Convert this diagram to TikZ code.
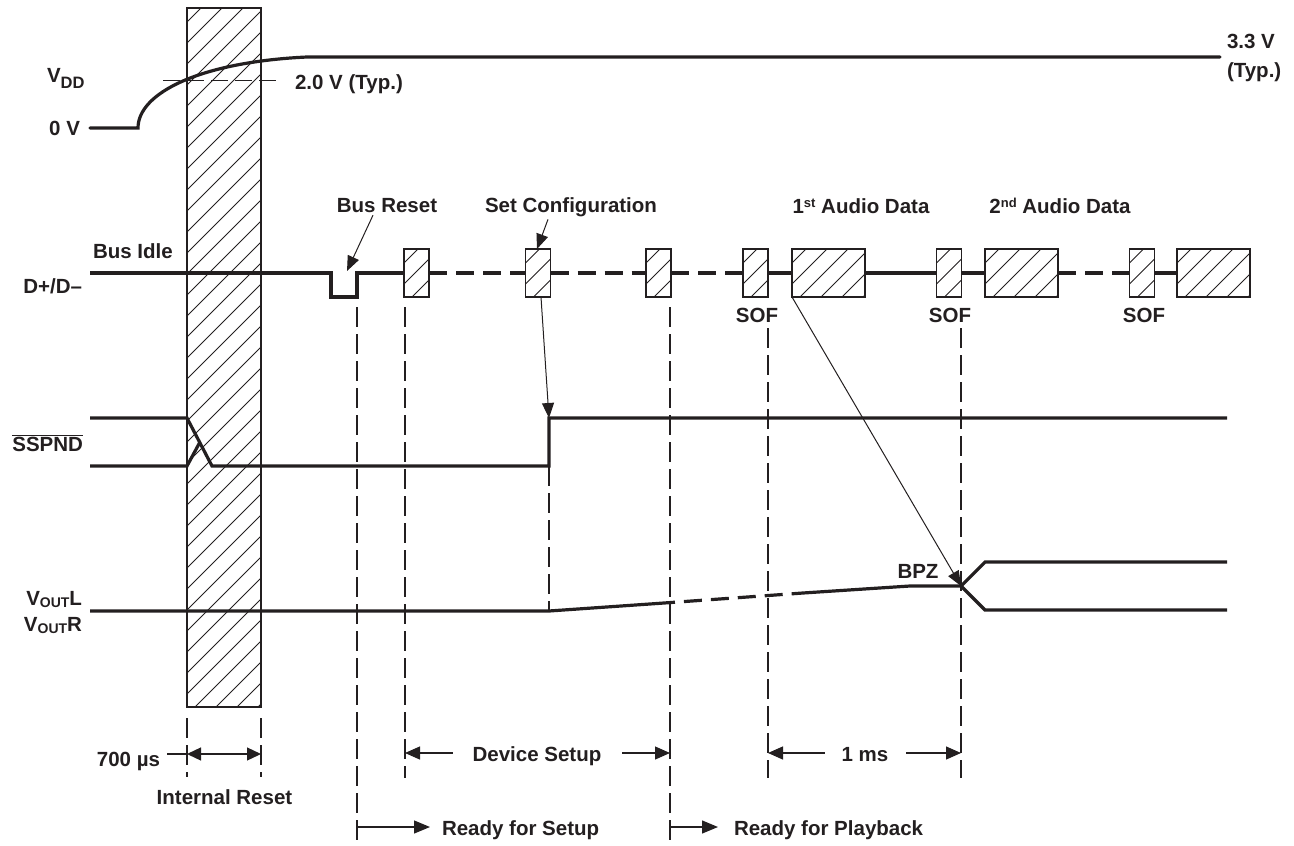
\documentclass[tikz,border=0pt]{standalone}
\usepackage{fontspec}
\setmainfont{Liberation Sans}
\usetikzlibrary{arrows.meta}
\definecolor{ink}{HTML}{231F20}
\newcommand\lbl{\fontsize{20.5}{24}\selectfont\bfseries}
\newcommand\subDD[1]{\raisebox{-6pt}{\fontsize{16.5}{16.5}\selectfont #1}}
\newcommand\subOUT[1]{\raisebox{-2.5pt}{\fontsize{14}{14}\selectfont #1}}
\newcommand\supx[1]{\raisebox{6pt}{\fontsize{13}{13}\selectfont #1}}
\begin{document}
\begin{tikzpicture}[x=1pt,y=-1pt,
  every node/.style={inner sep=0pt,outer sep=0pt,text=ink,font=\lbl},
  sig/.style={draw=ink,line width=3.2pt},
  sigdash/.style={draw=ink,line width=3.2pt,dash pattern=on 18pt off 9pt},
  vd/.style={draw=ink,line width=1.1pt,dash pattern=on 20pt off 7pt},
  ptr/.style={draw=ink,line width=1pt,-{Triangle[length=15pt,width=12pt]}},
  dim/.style={draw=ink,line width=1.3pt},
  tip/.style={-{Triangle[length=15pt,width=13pt]}},
  tipb/.style={{Triangle[length=14pt,width=13pt]}-{Triangle[length=14pt,width=13pt]}},
  rtip/.style={-{Triangle[length=16pt,width=13pt]}},
  hatched/.style={draw=ink,line width=1.2pt,fill=white,inner sep=0pt,outer sep=0pt,
    path picture={\foreach \k in {-40,...,6}{\draw[ink,line width=0.85pt]
      ([xshift={\k*21pt+8pt}]path picture bounding box.south west) -- ++(800pt,800pt);}}},
  sbox/.style={hatched,minimum width=25pt,minimum height=48pt},
  bbox/.style={hatched,minimum width=73pt,minimum height=48pt}
]
\path[use as bounding box] (0,0) rectangle (1294,846);

% internal reset column
\node[hatched,minimum width=74pt,minimum height=699pt] (col) at (224,357.5) {};

% ---------- VDD ----------
\draw[draw=ink,line width=1pt,dash pattern=on 17pt off 7pt] (163,80) coordinate (twoA) -- (282,80) coordinate (twoB);
\draw[sig,line cap=round] (90,128) coordinate (vdd0) -- (138,128) .. controls (138,93) and (200,62) .. (307,57) -- (1220,57) coordinate (vdd1);
\node[anchor=base west] (vddlbl) at (47,82) {V\subDD{DD}};
\node[anchor=base east] (zerov) at (80,135) {0 V};
\node[anchor=base west] (twov) at (295,89) {2.0 V (Typ.)};
\node[anchor=base west] (threev) at (1227,48) {3.3 V};
\node[anchor=base west] (typ) at (1227,77) {(Typ.)};

% ---------- vertical dashed guides ----------
\draw[vd] (187,718) -- (187,777);
\draw[vd] (261,718) -- (261,777);
\draw[vd] (357,307) -- (357,846);
\draw[vd] (405,307) -- (405,778);
\draw[vd] (549,466) -- (549,611);
\draw[vd] (670,307) -- (670,846);
\draw[vd] (768,328) -- (768,778);
\draw[vd] (961,328) -- (961,778);

% ---------- D+/D- ----------
\node[sbox] (b1) at (416.5,273) {};
\node[sbox] (b2) at (538,273) {};
\node[sbox] (b3) at (658.5,273) {};
\node[sbox] (s1) at (755.5,273) {};
\node[bbox] (a1) at (828.5,273) {};
\node[sbox] (s2) at (949,273) {};
\node[bbox] (a2) at (1021.5,273) {};
\node[sbox] (s3) at (1142,273) {};
\node[bbox] (a3) at (1213.5,273) {};

\draw[sig] (90,273) -- (331,273) -- (331,297) -- (357,297) -- (357,273) -- (b1.west);
\draw[sigdash] (b1.east) -- (b2.west);
\draw[sigdash] (b2.east) -- (b3.west);
\draw[sigdash] (b3.east) -- (s1.west);
\draw[sig] (s1.east) -- (a1.west);
\draw[sig] (a1.east) -- (s2.west);
\draw[sig] (s2.east) -- (a2.west);
\draw[sigdash] (a2.east) -- (s3.west);
\draw[sig] (s3.east) -- (a3.west);

\node[anchor=base west] (idle) at (93,258) {Bus Idle};
\node[anchor=base east] (dlbl) at (82,293) {D+/D–};
\node[anchor=base] (brlbl) at (387,212) {Bus Reset};
\node[anchor=base] (sclbl) at (571,212) {Set Configuration};
\node[anchor=base] (ad1) at (861,213) {1\supx{st} Audio Data};
\node[anchor=base] (ad2) at (1060,213) {2\supx{nd} Audio Data};
\node[anchor=base] (sof1) at (757,322) {SOF};
\node[anchor=base] (sof2) at (950,322) {SOF};
\node[anchor=base] (sof3) at (1144,322) {SOF};

% ---------- SSPND ----------
\draw[sig] (90,418) -- (187,418) -- (212,466) -- (549,466) -- (549,418) coordinate (sspup) -- (1227,418);
\draw[sig] (90,466) -- (187,466) -- (200,442);
\node[anchor=base east] (ssplbl) at (83,451) {$\overline{\mbox{\lbl SSPND}}$};

% ---------- VOUT ----------
\draw[sig] (90,611) -- (549,611) -- (657,603.5);
\draw[sigdash] (657,603.5) -- (803,593);
\draw[sig] (803,593) -- (910,586) -- (961,586) coordinate (bpzpt);
\draw[sig] (bpzpt) -- (985,562) -- (1227,562);
\draw[sig] (bpzpt) -- (985,610) -- (1227,610);
\node[anchor=base east] (voutl) at (82,605) {V\subOUT{OUT}L};
\node[anchor=base east] (voutr) at (82,631) {V\subOUT{OUT}R};
\node[anchor=base] (bpz) at (918,578) {BPZ};

% ---------- pointer arrows ----------
\draw[ptr] ([xshift=-14pt,yshift=-3pt]brlbl.south) -- (347,271) coordinate (brtip);
\draw[ptr] ([xshift=-23pt,yshift=-3pt]sclbl.south) -- ([xshift=-1pt]b2.north);
\draw[ptr] ([xshift=3pt]b2.south) -- (sspup);
\draw[ptr] (a1.south west) -- (bpzpt);

% ---------- bottom dimensions ----------
\node[anchor=base east] (t700) at (160,766) {700 µs};
\draw[dim] (167,754) -- (187,754);
\draw[dim,tipb] (187,754) -- (261,754);
\node[anchor=base] (intr) at (224.5,804) {Internal Reset};

\node[anchor=base] (dset) at (537,761) {Device Setup};
\draw[dim,tip] ([xshift=-20pt]dset.west |- 0,753) -- (405,753);
\draw[dim,tip] ([xshift=21pt]dset.east |- 0,753) -- (670,753);

\node[anchor=base] (onems) at (865,761) {1 ms};
\draw[dim,tip] ([xshift=-17pt]onems.west |- 0,753) -- (768,753);
\draw[dim,tip] ([xshift=18pt]onems.east |- 0,753) -- (961,753);

\node[anchor=base west] (rset) at (442,835) {Ready for Setup};
\draw[dim,rtip] (357,827) -- ([xshift=-12pt]rset.west |- 0,827);
\node[anchor=base west] (rplay) at (734,835) {Ready for Playback};
\draw[dim,rtip] (670,827) -- ([xshift=-16pt]rplay.west |- 0,827);
\end{tikzpicture}
\end{document}
